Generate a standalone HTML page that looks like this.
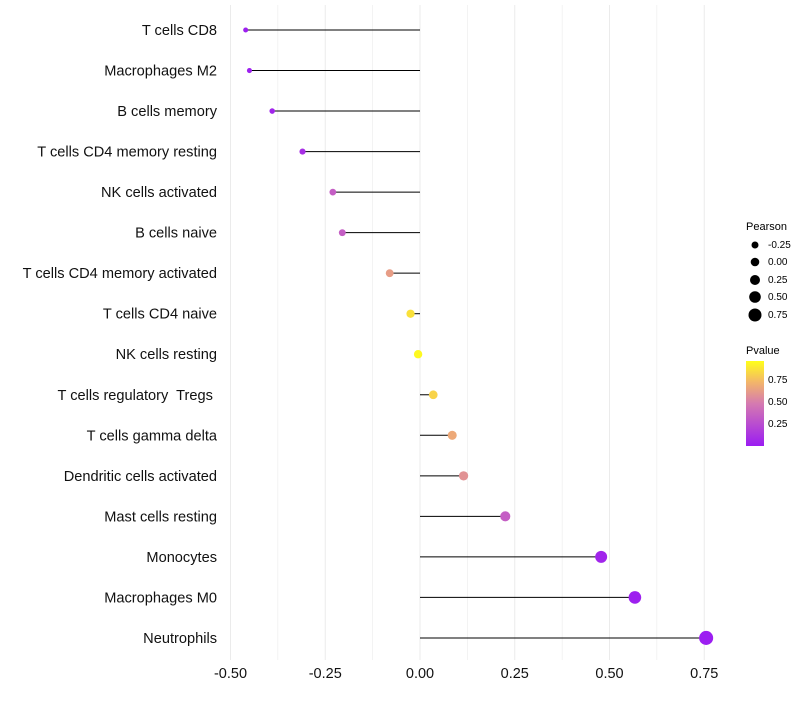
<!DOCTYPE html>
<html><head><meta charset="utf-8"><style>
body{margin:0;background:#fff;font-family:"Liberation Sans",sans-serif}
text{white-space:pre}
</style></head><body>
<svg id="chart" width="800" height="700" xmlns="http://www.w3.org/2000/svg">
<defs><linearGradient id="pg" x1="0" y1="1" x2="0" y2="0">
<stop offset="0" stop-color="#9b1cf2"/><stop offset="0.5" stop-color="#d57ab0"/><stop offset="0.75" stop-color="#f3b56a"/><stop offset="1" stop-color="#ffff1a"/>
</linearGradient></defs>
<g id="grid"></g>
<g id="marks"></g>
<g id="axis"></g>
<g font-size="10">
<text x="746" y="230" font-size="11">Pearson</text>
<circle cx="755" cy="245" r="3.5"/><text x="768" y="248">-0.25</text>
<circle cx="755" cy="262" r="4.3"/><text x="768" y="265">0.00</text>
<circle cx="755" cy="280" r="5"/><text x="768" y="283">0.25</text>
<circle cx="755" cy="297" r="5.8"/><text x="768" y="300">0.50</text>
<circle cx="755" cy="315" r="6.5"/><text x="768" y="318">0.75</text>
</g>
<g font-size="10">
<text x="746" y="354" font-size="11">Pvalue</text>
<rect x="746" y="361" width="18" height="85" fill="url(#pg)"/>
<text x="768" y="383">0.75</text><text x="768" y="405">0.50</text><text x="768" y="427">0.25</text>
</g>
</svg>
<script>
const categories=["T cells CD8","Macrophages M2","B cells memory","T cells CD4 memory resting","NK cells activated","B cells naive","T cells CD4 memory activated","T cells CD4 naive","NK cells resting","T cells regulatory  Tregs ","T cells gamma delta","Dendritic cells activated","Mast cells resting","Monocytes","Macrophages M0","Neutrophils"];
const pearson=[-0.46,-0.45,-0.39,-0.31,-0.23,-0.205,-0.08,-0.025,-0.005,0.035,0.085,0.115,0.225,0.478,0.567,0.755];
const pvalue=[0.02,0.02,0.05,0.1,0.35,0.35,0.65,0.9,0.98,0.85,0.7,0.6,0.35,0.05,0.02,0.01];
const xTicks=[-0.5,-0.25,0,0.25,0.5,0.75];
const xTickLabels=["-0.50","-0.25","0.00","0.25","0.50","0.75"];
const NS="http://www.w3.org/2000/svg";
const x=v=>420+v*379;
const y=i=>30+i*40.53;
const r=v=>2.5+(v+0.46)/1.21*4.5;
function lerp(a,b,t){return a.map((c,k)=>Math.round(c+(b[k]-c)*t));}
const stops=[[0,[155,28,242]],[0.5,[213,122,176]],[0.75,[243,181,106]],[1,[255,255,26]]];
function col(p){for(let k=1;k<stops.length;k++){if(p<=stops[k][0]){const t=(p-stops[k-1][0])/(stops[k][0]-stops[k-1][0]);return "rgb("+lerp(stops[k-1][1],stops[k][1],t).join(",")+")";}}return "rgb(255,255,26)";}
function mk(tag,attrs,parent){const e=document.createElementNS(NS,tag);for(const k in attrs)e.setAttribute(k,attrs[k]);parent.appendChild(e);return e;}
const grid=document.getElementById('grid'),marks=document.getElementById('marks'),axis=document.getElementById('axis');
for(let v=-0.5;v<=0.8;v+=0.125){const gl=mk('line',{x1:x(v),x2:x(v),y1:5,y2:660,stroke:'#ebebeb','stroke-width':Math.abs((v/0.25)-Math.round(v/0.25))<1e-6?1:0.6},grid);

}
xTicks.forEach((v,i)=>{const t=mk('text',{x:x(v),y:678,'text-anchor':'middle','font-size':14.5,fill:'#111'},axis);t.textContent=xTickLabels[i];

});
categories.forEach((c,i)=>{
const t=mk('text',{x:217,y:y(i)+5,'text-anchor':'end','font-size':14.6,fill:'#111'},axis);t.textContent=c;


const l=mk('line',{x1:x(0),x2:x(pearson[i]),y1:y(i),y2:y(i),stroke:'#000','stroke-width':1},marks);


const d=mk('circle',{cx:x(pearson[i]),cy:y(i),r:r(pearson[i]),fill:col(pvalue[i])},marks);


});
</script>
</body></html>
